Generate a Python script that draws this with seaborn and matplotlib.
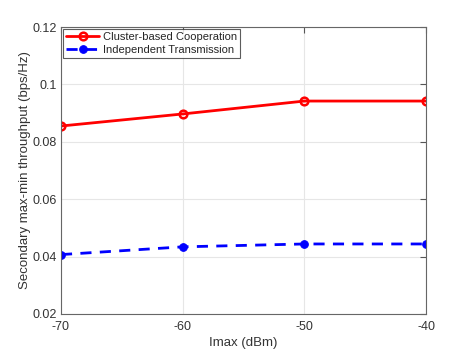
import numpy as np
import pandas as pd
import matplotlib
matplotlib.use("Agg")
import matplotlib.pyplot as plt
import seaborn as sns

# data
imax = [-70, -60, -50, -40]
cluster_coop = [0.0855, 0.0897, 0.0942, 0.0942]
independent_tx = [0.0407, 0.0434, 0.0444, 0.0444]

sns.set_style("white")
plt.rcParams['font.family'] = ['Liberation Sans', 'DejaVu Sans']
plt.rcParams['axes.unicode_minus'] = False

fig = plt.figure(figsize=(4.71, 3.53), dpi=100)
ax = fig.add_axes([0.1295, 0.1105, 0.775, 0.813])

df_coop = pd.DataFrame({"x": imax, "y": cluster_coop})
df_ind = pd.DataFrame({"x": imax, "y": independent_tx})

sns.lineplot(data=df_coop, x="x", y="y", ax=ax, color="red", lw=2,
             marker="o", markersize=5.5, markerfacecolor="none",
             markeredgecolor="red", markeredgewidth=1.8,
             label="Cluster-based Cooperation")
sns.lineplot(data=df_ind, x="x", y="y", ax=ax, color="blue", lw=2,
             linestyle=(0, (4, 3)), marker="o", markersize=5.5,
             markerfacecolor="blue", markeredgecolor="blue",
             label="Independent Transmission")

ax.set_xlim(-70, -40)
ax.set_ylim(0.02, 0.12)
ax.set_xticks([-70, -60, -50, -40])
ax.set_yticks([0.02, 0.04, 0.06, 0.08, 0.1, 0.12])
ax.set_yticklabels(["0.02", "0.04", "0.06", "0.08", "0.1", "0.12"])
ax.grid(True, color="#e6e6e6", lw=0.8)
ax.set_axisbelow(True)
ax.tick_params(direction="in", length=4, color="#555555", labelsize=9,
               labelcolor="#333333", top=True, right=True)
ax.tick_params(axis="x", pad=5)
ax.tick_params(axis="y", pad=3)
for s in ax.spines.values():
    s.set_color("#666666")
    s.set_linewidth(0.8)

ax.set_xlabel("Imax (dBm)", fontsize=9.5, color="#333333", labelpad=3)
ax.set_ylabel("Secondary max-min throughput (bps/Hz)", fontsize=9.5,
              color="#333333", labelpad=1)

leg = ax.legend(loc="upper left", fontsize=8, frameon=True, fancybox=False,
                borderaxespad=0.15, handlelength=3.0, labelspacing=0.25,
                borderpad=0.3, handletextpad=0.3)
leg.get_frame().set_edgecolor("#333333")
leg.get_frame().set_linewidth(0.8)

fig.savefig("out.png", dpi=100)
